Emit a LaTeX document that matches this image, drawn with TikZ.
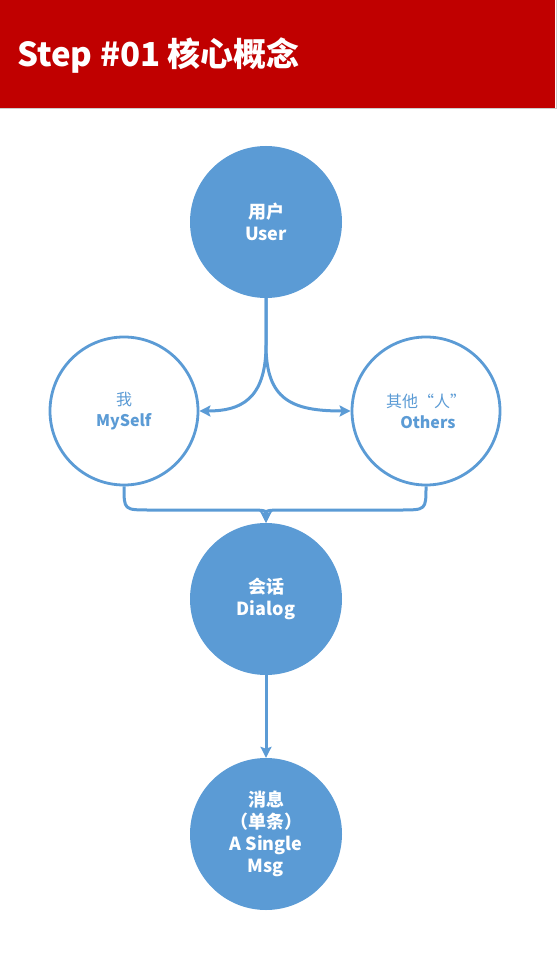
\documentclass[tikz,border=0pt]{standalone}
\usepackage{fontspec}
\setmainfont{Noto Sans CJK SC}
\usetikzlibrary{arrows.meta}
\definecolor{hdrred}{HTML}{C00000}
\definecolor{nodeblue}{HTML}{5B9BD5}
\tikzset{
  filledc/.style={circle, fill=nodeblue, minimum size=152pt, inner sep=0pt, text=white, align=center, font=\fontsize{18}{22}\selectfont\bfseries},
  outlinec/.style={circle, draw=nodeblue, line width=2.8pt, fill=white, minimum size=148pt, inner sep=0pt, text=nodeblue, align=center, font=\fontsize{16}{21}\selectfont},
  conn/.style={draw=nodeblue, line width=3pt, -{Stealth[length=11pt,width=11pt,inset=2pt]}}
}
\begin{document}
\begin{tikzpicture}[x=1pt,y=-1pt]
\useasboundingbox (0,0) rectangle (559,957);
\fill[hdrred] (0,0) rectangle (555,108);
\draw[black!20, line width=1pt] (556,0) -- (556,109) -- (0,109);
\node[anchor=west, text=white, font=\fontsize{33}{38}\selectfont\bfseries, inner sep=0pt] (title) at (17,56) {Step \#01 核心概念};

\node[filledc] (user) at (266,222) {用户\\User};
\node[outlinec] (myself) at (124,411) {我\\\textbf{MySelf}};
\node[outlinec] (others) at (426,411) {其他“人”\\\textbf{\ Others}};
\node[filledc] (dialog) at (266,599) {会话\\Dialog};
\node[filledc] (msg) at (266,834) {消息\\（单条）\\A Single\\Msg};

\draw[conn] (user.south) -- (266,345) .. controls (266,400) and (240,411) .. (myself.east);
\draw[conn] (user.south) -- (266,345) .. controls (266,400) and (292,411) .. (others.west);
\draw[conn] (myself.south) .. controls (124,510) .. (150,510) -- (240,510) .. controls (266,510) .. (dialog.north);
\draw[conn] (others.south) .. controls (426,510) .. (400,510) -- (292,510) .. controls (266,510) .. (dialog.north);
\draw[conn] (dialog.south) -- (msg.north);
\end{tikzpicture}
\end{document}
